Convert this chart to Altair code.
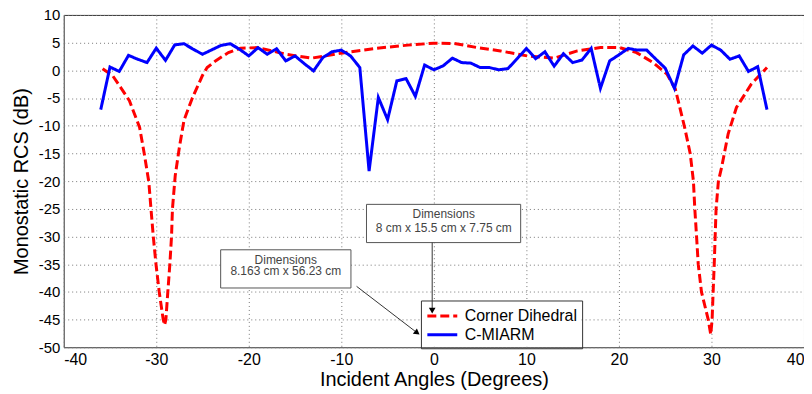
import altair as alt
import pandas as pd

# ---- data ----
miarm_x = list(range(-36, 37))
miarm_y = [-7.1, 0.6, -0.2, 2.7, 2.0, 1.4, 4.0, 1.8, 4.6, 4.8, 3.8, 2.9, 3.7, 4.5, 4.8,
           3.8, 2.6, 4.1, 2.9, 3.9, 1.7, 2.6, 1.2, -0.1, 2.3, 3.35, 3.65, 2.6, 0.5, -18.2,
           -4.9, -8.9, -1.9, -1.5, -4.7, 0.95, 0.1, 0.8, 2.2, 1.4, 1.3, 0.5, 0.5, 0.1, 0.3,
           2.1, 3.95, 2.1, 3.35, 0.75, 3.0, 1.4, 1.85, 3.95, -3.25, 1.7, 2.8, 3.95, 3.65,
           3.65, 2.0, 0.4, -3.25, 2.8, 4.4, 3.1, 4.55, 3.65, 2.0, 2.6, -0.2, 0.65, -7.1]

dihedral_x = [-35.8, -34.7, -33.8, -32.9, -31.8, -31.3, -30.8, -30.57, -30.32, -30.03, -29.68,
              -29.25, -29.1, -28.96, -28.75, -28.53, -28.35, -28.25, -27.95, -27.5, -27.0,
              -26.1, -25.0, -24.5, -23.6, -22.2, -20.9, -19.0, -17.5, -16.0, -13.2, -10.0,
              -6.4, -2.8, 0.0, 2.2, 4.7, 7.2, 10.1, 13.0, 15.5, 18.0, 20.1, 21.9, 23.7, 25.2,
              26.1, 27.1, 27.7, 28.05, 28.2, 28.39, 28.57, 28.92, 29.65, 29.92, 30.07, 30.18,
              30.3, 30.4, 30.5, 30.75, 31.1, 31.8, 32.7, 34.3, 36.0]
dihedral_y = [0.3, -1.0, -3.2, -5.5, -10.3, -15.0, -20.2, -25.0, -30.0, -35.0, -40.0,
              -45.0, -46.0, -45.0, -40.0, -35.0, -30.0, -25.0, -19.0, -13.9, -9.0,
              -5.0, -0.9, 0.5, 1.7, 3.2, 4.0, 4.1, 3.5, 2.9, 2.2, 3.1,
              3.95, 4.55, 4.9, 4.85, 4.1, 3.5, 2.6, 2.2, 3.5, 4.1, 4.1, 3.2, 1.4, -0.7,
              -3.4, -10.3, -15.0, -20.0, -25.0, -30.0, -35.0, -40.0, -45.0, -47.7, -45.0, -40.0,
              -35.0, -30.0, -25.0, -20.0, -17.5, -11.5, -6.7, -2.5, 0.5]

series_names = ["Corner Dihedral", "C-MIARM"]
series_colors = ["#ff0000", "#0000ff"]

x_ticks = [-40, -30, -20, -10, 0, 10, 20, 30, 40]
y_ticks = [10, 5, 0, -5, -10, -15, -20, -25, -30, -35, -40, -45, -50]

box_text_1 = ["Dimensions", "8 cm x 15.5 cm x 7.75 cm"]
box_text_2 = ["Dimensions", "8.163 cm x 56.23 cm"]

# annotation geometry (data coordinates)
box1 = dict(x=-7.28, x2=9.38, y=-24.2, y2=-31.1)
box2 = dict(x=-23.04, x2=-8.96, y=-32.4, y2=-39.3)
legend_bg = dict(x=-1.4, x2=15.7, y=-41.6, y2=-49.9)
text1 = pd.DataFrame({"x": [1.07, 1.07], "y": [-26.0, -28.4], "t": box_text_1})
text2 = pd.DataFrame({"x": [-16.0, -16.0], "y": [-34.2, -36.3], "t": box_text_2})
arrow1 = pd.DataFrame({"x": [-0.18], "y": [-31.1], "x2": [-0.18], "y2": [-43.4]})
arrow2 = pd.DataFrame({"x": [-8.35], "y": [-39.0], "x2": [-1.8], "y2": [-47.4]})

df = pd.concat([
    pd.DataFrame({"x": dihedral_x, "y": dihedral_y, "s": series_names[0], "o": range(len(dihedral_x))}),
    pd.DataFrame({"x": miarm_x, "y": miarm_y, "s": series_names[1], "o": range(len(miarm_x))}),
])

xs = alt.Scale(domain=[-40, 40], nice=False)
ys = alt.Scale(domain=[-50, 10], nice=False)

xaxis = alt.Axis(values=x_ticks, title="Incident Angles (Degrees)", labelExpr="'' + datum.value",
                 labelFontSize=16)
yaxis = alt.Axis(values=y_ticks, title="Monostatic RCS (dB)", labelExpr="'' + datum.value",
                 labelFontSize=15, labelOverlap=False)


def X(field):
    return alt.X(field, scale=xs, axis=xaxis)


def Y(field):
    return alt.Y(field, scale=ys, axis=yaxis)


color = alt.Color("s:N", scale=alt.Scale(domain=series_names, range=series_colors),
                  legend=alt.Legend(title=None, orient="none", legendX=359, legendY=287,
                                    symbolType="M-1.67,0L1.67,0", symbolSize=324, symbolStrokeWidth=3,
                                    symbolOffset=6, labelFontSize=16, labelLimit=300,
                                    strokeColor="#333", padding=5, rowPadding=0, labelOffset=12))
dash = alt.StrokeDash("s:N", scale=alt.Scale(domain=series_names, range=[[9, 4], [1, 0]]),
                      legend=None)

base = alt.Chart(df)
red = base.transform_filter(alt.datum.s == series_names[0]).mark_line(strokeWidth=3).encode(
    x=X("x:Q"), y=Y("y:Q"), color=color, strokeDash=dash, order="o:Q")
blue = base.transform_filter(alt.datum.s == series_names[1]).mark_line(strokeWidth=3).encode(
    x=X("x:Q"), y=Y("y:Q"), color=color, strokeDash=dash, order="o:Q")

boxes = alt.Chart(pd.DataFrame([box1, box2])).mark_rect(
    fill="white", stroke="#555", strokeWidth=1).encode(
    x=X("x:Q"), x2="x2:Q", y=Y("y:Q"), y2="y2:Q")
legend_back = alt.Chart(pd.DataFrame([legend_bg])).mark_rect(fill="white").encode(
    x=X("x:Q"), x2="x2:Q", y=Y("y:Q"), y2="y2:Q")

texts = alt.Chart(pd.concat([text1, text2])).mark_text(
    fontSize=12, color="#444", font="Liberation Sans", baseline="middle").encode(
    x=X("x:Q"), y=Y("y:Q"), text="t:N")

arrows_df = pd.concat([arrow1, arrow2])
arrow_lines = alt.Chart(arrows_df).mark_rule(color="#333", strokeWidth=1).encode(
    x=X("x:Q"), y=Y("y:Q"), x2="x2:Q", y2="y2:Q")
head1 = alt.Chart(arrow1).mark_point(shape="triangle-down", filled=True, color="black",
                                     size=45, opacity=1).encode(x=X("x2:Q"), y=Y("y2:Q"))
head2 = alt.Chart(arrow2).mark_point(shape="triangle-up", angle=127, filled=True, color="black",
                                     size=45, opacity=1).encode(x=X("x2:Q"), y=Y("y2:Q"))

chart = alt.layer(red, blue, legend_back, boxes, texts, arrow_lines, head1, head2).properties(
    width=744, height=334,
    autosize=alt.AutoSizeParams(type="none"),
    padding={"left": 56, "top": 6, "right": 0, "bottom": 46},
).configure_view(stroke="#333", strokeWidth=1).configure_axis(
    grid=True, gridColor="#777", gridDash=[1, 3], gridWidth=1,
    domain=False, ticks=False, titleFontSize=20,
    labelFont="Liberation Sans", titleFont="Liberation Sans",
    labelColor="black", titleColor="black", titleFontWeight="normal",
    labelPadding=4,
).configure_axisY(titlePadding=7).configure_axisX(titlePadding=2).configure_legend(
    labelFont="Liberation Sans", labelColor="black")

chart.save("out.html", embed_options={"renderer": "svg", "actions": False})
